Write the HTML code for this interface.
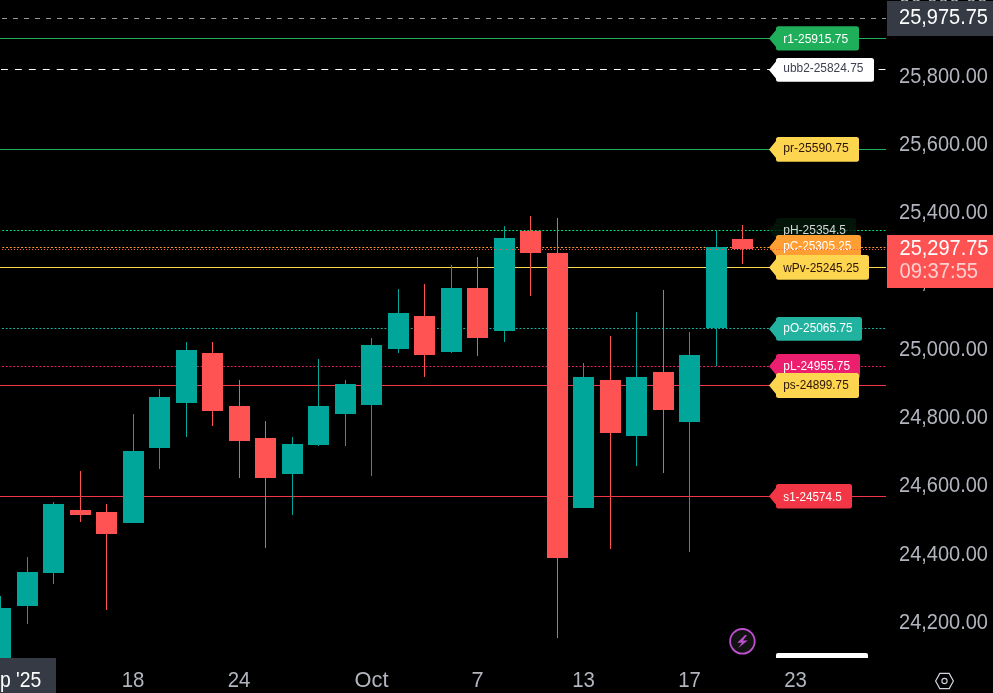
<!DOCTYPE html>
<html><head><meta charset="utf-8"><style>
html,body{margin:0;padding:0;background:#000;width:993px;height:693px;overflow:hidden}
svg{display:block;will-change:transform}
text{font-family:"Liberation Sans",Arial,sans-serif}
.ax{font-size:21.8px;fill:#B2B5BE}
.lt{font-size:12.2px}
</style></head><body>
<svg width="993" height="693" viewBox="0 0 993 693">
<rect width="993" height="693" fill="#000"/>
<g>
<line x1="2" y1="18.5" x2="886" y2="18.5" stroke="#9598A1" stroke-width="1" stroke-dasharray="5 6" shape-rendering="crispEdges"/>
<rect x="0" y="38" width="886" height="1" fill="#1FAF5A" shape-rendering="crispEdges"/>
<line x1="1" y1="69.5" x2="886" y2="69.5" stroke="#FFFFFF" stroke-width="1" stroke-dasharray="6.9 7.03"/>
<rect x="0" y="149" width="886" height="1" fill="#1FAF5A" shape-rendering="crispEdges"/>
<line x1="2.35" y1="230.5" x2="886" y2="230.5" stroke="#00E676" stroke-width="1" stroke-dasharray="1.9 1.85"/>
<line x1="2.35" y1="247.5" x2="886" y2="247.5" stroke="#FF9E32" stroke-width="1" stroke-dasharray="1.9 1.85"/>
<rect x="0" y="267" width="886" height="1" fill="#FDD54F" shape-rendering="crispEdges"/>
<line x1="2.0" y1="328.5" x2="886" y2="328.5" stroke="#22B3A0" stroke-width="1" stroke-dasharray="1.9 1.85"/>
<line x1="2.0" y1="366.5" x2="886" y2="366.5" stroke="#EC1E6E" stroke-width="1" stroke-dasharray="1.9 1.85"/>
<rect x="0" y="385" width="886" height="1" fill="#F23645" shape-rendering="crispEdges"/>
<rect x="0" y="496" width="886" height="1" fill="#F23645" shape-rendering="crispEdges"/>
</g>
<g shape-rendering="crispEdges">
<rect x="0" y="596" width="1" height="62" fill="#00A69A"/>
<rect x="-10" y="608" width="21" height="50" fill="#00A69A"/>
<rect x="27" y="557" width="1" height="67" fill="#00A69A"/>
<rect x="17" y="572" width="21" height="34" fill="#00A69A"/>
<rect x="53" y="502" width="1" height="82" fill="#00A69A"/>
<rect x="43" y="504" width="21" height="69" fill="#00A69A"/>
<rect x="80" y="471" width="1" height="51" fill="#FF5252"/>
<rect x="70" y="510" width="21" height="5" fill="#FF5252"/>
<rect x="106" y="504" width="1" height="106" fill="#FF5252"/>
<rect x="96" y="512" width="21" height="22" fill="#FF5252"/>
<rect x="133" y="414" width="1" height="109" fill="#00A69A"/>
<rect x="123" y="451" width="21" height="72" fill="#00A69A"/>
<rect x="159" y="389" width="1" height="80" fill="#00A69A"/>
<rect x="149" y="397" width="21" height="51" fill="#00A69A"/>
<rect x="186" y="342" width="1" height="95" fill="#00A69A"/>
<rect x="176" y="350" width="21" height="53" fill="#00A69A"/>
<rect x="212" y="342" width="1" height="84" fill="#FF5252"/>
<rect x="202" y="353" width="21" height="58" fill="#FF5252"/>
<rect x="239" y="380" width="1" height="98" fill="#FF5252"/>
<rect x="229" y="406" width="21" height="35" fill="#FF5252"/>
<rect x="265" y="421" width="1" height="127" fill="#FF5252"/>
<rect x="255" y="438" width="21" height="40" fill="#FF5252"/>
<rect x="292" y="437" width="1" height="78" fill="#00A69A"/>
<rect x="282" y="444" width="21" height="30" fill="#00A69A"/>
<rect x="318" y="359" width="1" height="87" fill="#00A69A"/>
<rect x="308" y="406" width="21" height="39" fill="#00A69A"/>
<rect x="345" y="380" width="1" height="66" fill="#00A69A"/>
<rect x="335" y="384" width="21" height="30" fill="#00A69A"/>
<rect x="371" y="338" width="1" height="138" fill="#00A69A"/>
<rect x="361" y="345" width="21" height="60" fill="#00A69A"/>
<rect x="398" y="289" width="1" height="64" fill="#00A69A"/>
<rect x="388" y="313" width="21" height="36" fill="#00A69A"/>
<rect x="424" y="284" width="1" height="93" fill="#FF5252"/>
<rect x="414" y="316" width="21" height="39" fill="#FF5252"/>
<rect x="451" y="265" width="1" height="88" fill="#00A69A"/>
<rect x="441" y="288" width="21" height="64" fill="#00A69A"/>
<rect x="477" y="257" width="1" height="99" fill="#FF5252"/>
<rect x="467" y="288" width="21" height="50" fill="#FF5252"/>
<rect x="504" y="226" width="1" height="116" fill="#00A69A"/>
<rect x="494" y="238" width="21" height="93" fill="#00A69A"/>
<rect x="530" y="216" width="1" height="80" fill="#FF5252"/>
<rect x="520" y="231" width="21" height="22" fill="#FF5252"/>
<rect x="557" y="218" width="1" height="420" fill="#FF5252"/>
<rect x="547" y="253" width="21" height="305" fill="#FF5252"/>
<rect x="583" y="363" width="1" height="145" fill="#00A69A"/>
<rect x="573" y="377" width="21" height="131" fill="#00A69A"/>
<rect x="610" y="336" width="1" height="213" fill="#FF5252"/>
<rect x="600" y="380" width="21" height="53" fill="#FF5252"/>
<rect x="636" y="312" width="1" height="154" fill="#00A69A"/>
<rect x="626" y="377" width="21" height="59" fill="#00A69A"/>
<rect x="663" y="290" width="1" height="183" fill="#FF5252"/>
<rect x="653" y="372" width="21" height="38" fill="#FF5252"/>
<rect x="689" y="332" width="1" height="220" fill="#00A69A"/>
<rect x="679" y="355" width="21" height="67" fill="#00A69A"/>
<rect x="716" y="230" width="1" height="136" fill="#00A69A"/>
<rect x="706" y="247" width="21" height="81" fill="#00A69A"/>
<rect x="742" y="225" width="1" height="39" fill="#FF5252"/>
<rect x="732" y="239" width="21" height="10" fill="#FF5252"/>
</g>
<g>
<path d="M778.5,26.2 H856.5 Q859,26.2 859,28.7 V48.1 Q859,50.6 856.5,50.6 H778.5 Q776,50.6 776,48.1 V46.90 L769,38.40 L776,29.90 V28.7 Q776,26.2 778.5,26.2 Z" fill="#1FAF5A"/>
<text x="783.3" y="42.9" fill="#FFFFFF" class="lt" textLength="64.8" lengthAdjust="spacingAndGlyphs">r1-25915.75</text>
<path d="M778.5,58.0 H871.5 Q874,58.0 874,60.5 V79.3 Q874,81.8 871.5,81.8 H778.5 Q776,81.8 776,79.3 V78.40 L769,69.90 L776,61.40 V60.5 Q776,58.0 778.5,58.0 Z" fill="#FFFFFF"/>
<text x="783.3" y="72.1" fill="#3D4150" class="lt" textLength="80.1" lengthAdjust="spacingAndGlyphs">ubb2-25824.75</text>
<path d="M778.5,137.0 H856.5 Q859,137.0 859,139.5 V159.3 Q859,161.8 856.5,161.8 H778.5 Q776,161.8 776,159.3 V157.90 L769,149.40 L776,140.90 V139.5 Q776,137.0 778.5,137.0 Z" fill="#FDD54F"/>
<text x="783.3" y="152.4" fill="#2B1408" class="lt" textLength="65.5" lengthAdjust="spacingAndGlyphs">pr-25590.75</text>
<path d="M778.5,218.1 H853.5 Q856,218.1 856,220.6 V240.1 Q856,242.6 853.5,242.6 H778.5 Q776,242.6 776,240.1 V238.85 L769,230.35 L776,221.85 V220.6 Q776,218.1 778.5,218.1 Z" fill="rgb(3,26,10)" fill-opacity="0.78"/>
<text x="783.3" y="234.0" fill="#D6D7DB" class="lt" textLength="62.6" lengthAdjust="spacingAndGlyphs">pH-25354.5</text>
<path d="M778.5,235.0 H858.5 Q861,235.0 861,237.5 V257.0 Q861,259.5 858.5,259.5 H778.5 Q776,259.5 776,257.0 V255.75 L769,247.25 L776,238.75 V237.5 Q776,235.0 778.5,235.0 Z" fill="#FF9E32"/>
<text x="783.3" y="249.6" fill="#FFFFFF" class="lt" textLength="68.0" lengthAdjust="spacingAndGlyphs">pC-25305.25</text>
<path d="M778.5,255.0 H866.5 Q869,255.0 869,257.5 V277.3 Q869,279.8 866.5,279.8 H778.5 Q776,279.8 776,277.3 V275.90 L769,267.40 L776,258.90 V257.5 Q776,255.0 778.5,255.0 Z" fill="#FDD54F"/>
<text x="783.3" y="271.6" fill="#2B1408" class="lt" textLength="75.8" lengthAdjust="spacingAndGlyphs">wPv-25245.25</text>
<path d="M778.5,317.1 H859.5 Q862,317.1 862,319.6 V338.3 Q862,340.8 859.5,340.8 H778.5 Q776,340.8 776,338.3 V337.45 L769,328.95 L776,320.45 V319.6 Q776,317.1 778.5,317.1 Z" fill="#22B3A0"/>
<text x="783.3" y="332.0" fill="#FFFFFF" class="lt" textLength="69.2" lengthAdjust="spacingAndGlyphs">pO-25065.75</text>
<path d="M778.5,354.1 H857.5 Q860,354.1 860,356.6 V376.1 Q860,378.6 857.5,378.6 H778.5 Q776,378.6 776,376.1 V374.85 L769,366.35 L776,357.85 V356.6 Q776,354.1 778.5,354.1 Z" fill="#EC1E6E"/>
<text x="783.3" y="369.9" fill="#FFFFFF" class="lt" textLength="66.8" lengthAdjust="spacingAndGlyphs">pL-24955.75</text>
<path d="M778.5,373.1 H856.5 Q859,373.1 859,375.6 V395.4 Q859,397.9 856.5,397.9 H778.5 Q776,397.9 776,395.4 V394.00 L769,385.50 L776,377.00 V375.6 Q776,373.1 778.5,373.1 Z" fill="#FDD54F"/>
<text x="783.3" y="388.7" fill="#2B1408" class="lt" textLength="65.4" lengthAdjust="spacingAndGlyphs">ps-24899.75</text>
<path d="M778.5,484.1 H849.5 Q852,484.1 852,486.6 V506.1 Q852,508.6 849.5,508.6 H778.5 Q776,508.6 776,506.1 V504.85 L769,496.35 L776,487.85 V486.6 Q776,484.1 778.5,484.1 Z" fill="#F23645"/>
<text x="783.3" y="500.8" fill="#FFFFFF" class="lt" textLength="58.4" lengthAdjust="spacingAndGlyphs">s1-24574.5</text>
</g>
<line x1="2" y1="249.5" x2="886" y2="249.5" stroke="#FF5252" stroke-width="1" stroke-dasharray="1 2" shape-rendering="crispEdges"/>
<!-- price axis -->
<text x="899" y="14.4" class="ax" textLength="89.0" lengthAdjust="spacingAndGlyphs">26,000.00</text>
<text x="899" y="82.7" class="ax" textLength="89.0" lengthAdjust="spacingAndGlyphs">25,800.00</text>
<text x="899" y="151.0" class="ax" textLength="89.0" lengthAdjust="spacingAndGlyphs">25,600.00</text>
<text x="899" y="219.3" class="ax" textLength="89.0" lengthAdjust="spacingAndGlyphs">25,400.00</text>
<text x="899" y="287.6" class="ax" textLength="89.0" lengthAdjust="spacingAndGlyphs">25,200.00</text>
<text x="899" y="355.9" class="ax" textLength="89.0" lengthAdjust="spacingAndGlyphs">25,000.00</text>
<text x="899" y="424.1" class="ax" textLength="89.0" lengthAdjust="spacingAndGlyphs">24,800.00</text>
<text x="899" y="492.4" class="ax" textLength="89.0" lengthAdjust="spacingAndGlyphs">24,600.00</text>
<text x="899" y="560.7" class="ax" textLength="89.0" lengthAdjust="spacingAndGlyphs">24,400.00</text>
<text x="899" y="629.0" class="ax" textLength="89.0" lengthAdjust="spacingAndGlyphs">24,200.00</text>
<rect x="887" y="1" width="106" height="35" fill="#363A45"/>
<text x="899" y="23.6" class="ax" style="fill:#fff" textLength="89.0" lengthAdjust="spacingAndGlyphs">25,975.75</text>
<rect x="887" y="235" width="106" height="53" fill="#FF5252"/>
<text x="899.5" y="255" class="ax" style="fill:#fff" textLength="89.0" lengthAdjust="spacingAndGlyphs">25,297.75</text>
<text x="899.5" y="278.1" class="ax" style="fill:#FFD0D0" textLength="78.6" lengthAdjust="spacingAndGlyphs">09:37:55</text>
<!-- time axis -->
<rect x="0" y="658" width="56" height="35" fill="#363A45"/>
<text x="41.3" y="687" class="ax" text-anchor="end" style="fill:#fff" textLength="65" lengthAdjust="spacingAndGlyphs">Sep '25</text>
<text x="133.0" y="687" class="ax" text-anchor="middle" textLength="22.7" lengthAdjust="spacingAndGlyphs">18</text>
<text x="239.0" y="687" class="ax" text-anchor="middle" textLength="22.7" lengthAdjust="spacingAndGlyphs">24</text>
<text x="371.5" y="687" class="ax" text-anchor="middle">Oct</text>
<text x="477.5" y="687" class="ax" text-anchor="middle">7</text>
<text x="583.5" y="687" class="ax" text-anchor="middle" textLength="22.7" lengthAdjust="spacingAndGlyphs">13</text>
<text x="689.5" y="687" class="ax" text-anchor="middle" textLength="22.7" lengthAdjust="spacingAndGlyphs">17</text>
<text x="795.5" y="687" class="ax" text-anchor="middle" textLength="22.7" lengthAdjust="spacingAndGlyphs">23</text>
<!-- lightning icon -->
<circle cx="742.4" cy="641.3" r="12.3" fill="#121212" stroke="#BF4FD1" stroke-width="1.8"/>
<path d="M745.1,634.9 H747.0 L742.9,640.4 H747.8 L738.2,648.1 L742.0,642.7 H737.3 Z" fill="#BF4FD1"/>
<!-- white bar -->
<path d="M776,658 V655 Q776,653 778,653 H866 Q868,653 868,655 V658 Z" fill="#FFFFFF"/>
<!-- settings hexagon -->
<path d="M935.6,681 L939.8,673.4 H949.2 L953.4,681 L949.2,688.6 H939.8 Z" fill="none" stroke="#D1D4DC" stroke-width="1.2"/>
<circle cx="944.5" cy="681" r="2.6" fill="none" stroke="#D1D4DC" stroke-width="1.1"/>
</svg>
</body></html>
